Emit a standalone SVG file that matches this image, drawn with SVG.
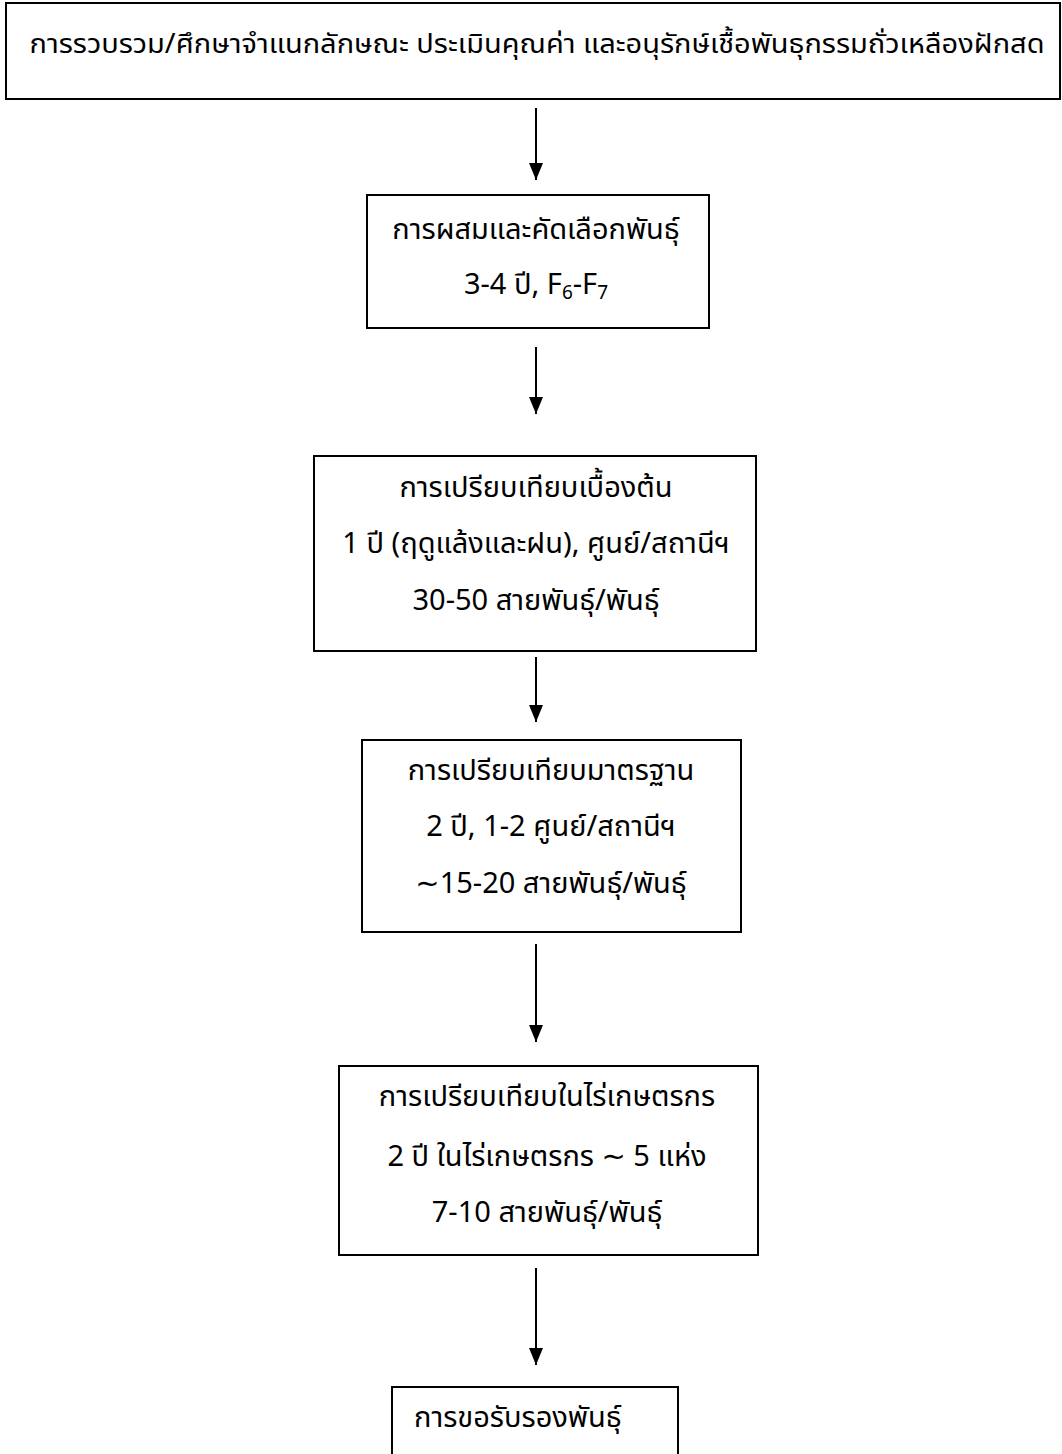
<svg xmlns="http://www.w3.org/2000/svg" width="1062" height="1454" viewBox="0 0 1062 1454">
<style>
.box{fill:#fff;stroke:#000;stroke-width:2}
.t{font-family:"Noto Sans Thai","Leelawadee UI",Tahoma,"Noto Sans","DejaVu Sans",sans-serif;font-size:29px;fill:#000;text-anchor:middle}
.top{font-family:"Noto Sans Thai","Leelawadee UI",Tahoma,"Noto Sans","DejaVu Sans",sans-serif;font-size:26.5px;fill:#000;text-anchor:middle}
.c{stroke:#000;stroke-width:2;fill:none;marker-end:url(#ah)}
</style>
<defs>
<marker id="ah" markerUnits="userSpaceOnUse" markerWidth="18" markerHeight="16" refX="17" refY="8" orient="auto" viewBox="0 0 18 16">
<path d="M0,1 L17,8 L0,15 Z" fill="#000"/>
</marker>
</defs>
<rect width="1062" height="1454" fill="#fff"/>
<g id="n1"><rect class="box" x="6" y="3" width="1054" height="96"/>
<text class="top" x="537" y="53" textLength="1015" lengthAdjust="spacingAndGlyphs">การรวบรวม/ศึกษาจำแนกลักษณะ ประเมินคุณค่า และอนุรักษ์เชื้อพันธุกรรมถั่วเหลืองฝักสด</text></g>
<g id="n2"><rect class="box" x="367" y="195" width="342" height="133"/>
<text class="t" x="536" y="239">การผสมและคัดเลือกพันธุ์</text>
<text class="t" x="536" y="294">3-4 ปี, F<tspan font-size="19" dy="5">6</tspan><tspan dy="-5">-F</tspan><tspan font-size="19" dy="5">7</tspan></text></g>
<g id="n3"><rect class="box" x="314" y="456" width="442" height="195"/>
<text class="t" x="536" y="497">การเปรียบเทียบเบื้องต้น</text>
<text class="t" x="536" y="553">1 ปี (ฤดูแล้งและฝน), ศูนย์/สถานีฯ</text>
<text class="t" x="536" y="610">30-50 สายพันธุ์/พันธุ์</text></g>
<g id="n4"><rect class="box" x="362" y="740" width="379" height="192"/>
<text class="t" x="551" y="780">การเปรียบเทียบมาตรฐาน</text>
<text class="t" x="551" y="836">2 ปี, 1-2 ศูนย์/สถานีฯ</text>
<text class="t" x="551" y="893">∼15-20 สายพันธุ์/พันธุ์</text></g>
<g id="n5"><rect class="box" x="339" y="1066" width="419" height="189"/>
<text class="t" x="547" y="1106">การเปรียบเทียบในไร่เกษตรกร</text>
<text class="t" x="547" y="1166">2 ปี ในไร่เกษตรกร ∼ 5 แห่ง</text>
<text class="t" x="547" y="1222">7-10 สายพันธุ์/พันธุ์</text></g>
<g id="n6"><rect class="box" x="392" y="1387" width="286" height="80"/>
<text class="t" x="414" y="1427" style="text-anchor:start">การขอรับรองพันธุ์</text></g>
<g id="connectors">
<line class="c" x1="536" y1="108" x2="536" y2="180"/>
<line class="c" x1="536" y1="347" x2="536" y2="414"/>
<line class="c" x1="536" y1="657" x2="536" y2="722"/>
<line class="c" x1="536" y1="944" x2="536" y2="1042"/>
<line class="c" x1="536" y1="1268" x2="536" y2="1365"/>
</g>
</svg>
